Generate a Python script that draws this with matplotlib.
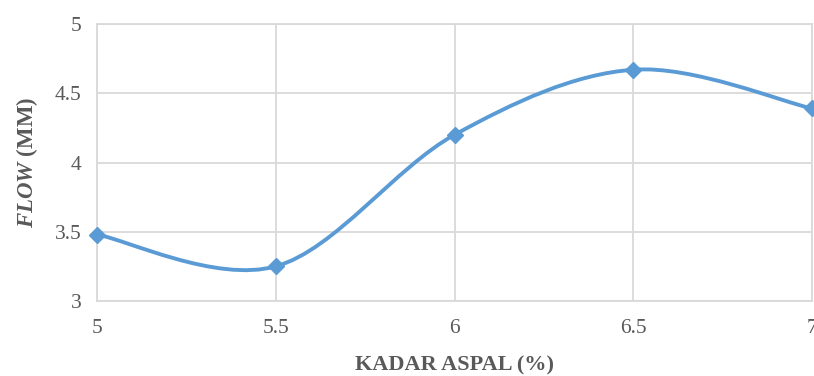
import matplotlib
matplotlib.use("Agg")
import matplotlib.pyplot as plt
from matplotlib.path import Path
from matplotlib.patches import PathPatch
import numpy as np

kadar_aspal = [5, 5.5, 6, 6.5, 7]
flow_mm = [3.48, 3.25, 4.20, 4.67, 4.39]
x_ticks = [5, 5.5, 6, 6.5, 7]
x_tick_labels = ["5", "5.5", "6", "6.5", "7"]
y_ticks = [3, 3.5, 4, 4.5, 5]
y_tick_labels = ["3", "3.5", "4", "4.5", "5"]

plt.rcParams['font.family'] = ['Liberation Serif', 'DejaVu Serif']
plt.rcParams['mathtext.fontset'] = 'custom'
plt.rcParams['mathtext.bfit'] = 'Liberation Serif:italic:bold'
plt.rcParams['mathtext.rm'] = 'Liberation Serif'

text_col = '#595959'
grid_col = '#d9d9d9'
line_col = '#5b9bd5'

fig = plt.figure(figsize=(8.14, 3.76), dpi=100)
ax = fig.add_axes([97/814, 75/376, (812-97)/814, (301-24)/376])

# smoothed line (Catmull-Rom as cubic Bezier, like Excel smoothing)
pts = np.column_stack([kadar_aspal, flow_mm]).astype(float)
ext = np.vstack([pts[0], pts, pts[-1]])
verts = [tuple(pts[0])]
codes = [Path.MOVETO]
for i in range(1, len(ext) - 2):
    p0, p1, p2, p3 = ext[i-1], ext[i], ext[i+1], ext[i+2]
    c1 = p1 + (p2 - p0) / 6.0
    c2 = p2 - (p3 - p1) / 6.0
    verts += [tuple(c1), tuple(c2), tuple(p2)]
    codes += [Path.CURVE4] * 3
patch = PathPatch(Path(verts, codes), facecolor='none', edgecolor=line_col,
                  lw=2.8, capstyle='round', joinstyle='round', clip_on=False, zorder=3)
ax.add_patch(patch)
ax.plot(kadar_aspal, flow_mm, linestyle='none', marker='D', markersize=8.5,
        color=line_col, clip_on=False, zorder=4)

ax.set_xlim(5, 7)
ax.set_ylim(3, 5)
ax.set_xticks(x_ticks)
ax.set_xticklabels(x_tick_labels)
ax.set_yticks(y_ticks)
ax.set_yticklabels(y_tick_labels)
ax.grid(True, color=grid_col, lw=1.3)
ax.set_axisbelow(True)
for s in ax.spines.values():
    s.set_color(grid_col)
    s.set_linewidth(1.3)
ax.tick_params(axis='both', length=0, labelsize=15.5, labelcolor=text_col)
ax.tick_params(axis='x', pad=13)
ax.tick_params(axis='y', pad=11)

ax.set_xlabel("KADAR ASPAL (%)", fontsize=16, fontweight='bold', color=text_col, va='center')
ax.xaxis.set_label_coords(0.5, (301 - 365) / 277)
ax.set_ylabel(r"$\mathbfit{FLOW}$ (MM)", fontsize=16.5, fontweight='bold', color=text_col, va='center')
ax.yaxis.set_label_coords((27 - 97) / 715, 0.5)

fig.savefig("out.png", dpi=100)
